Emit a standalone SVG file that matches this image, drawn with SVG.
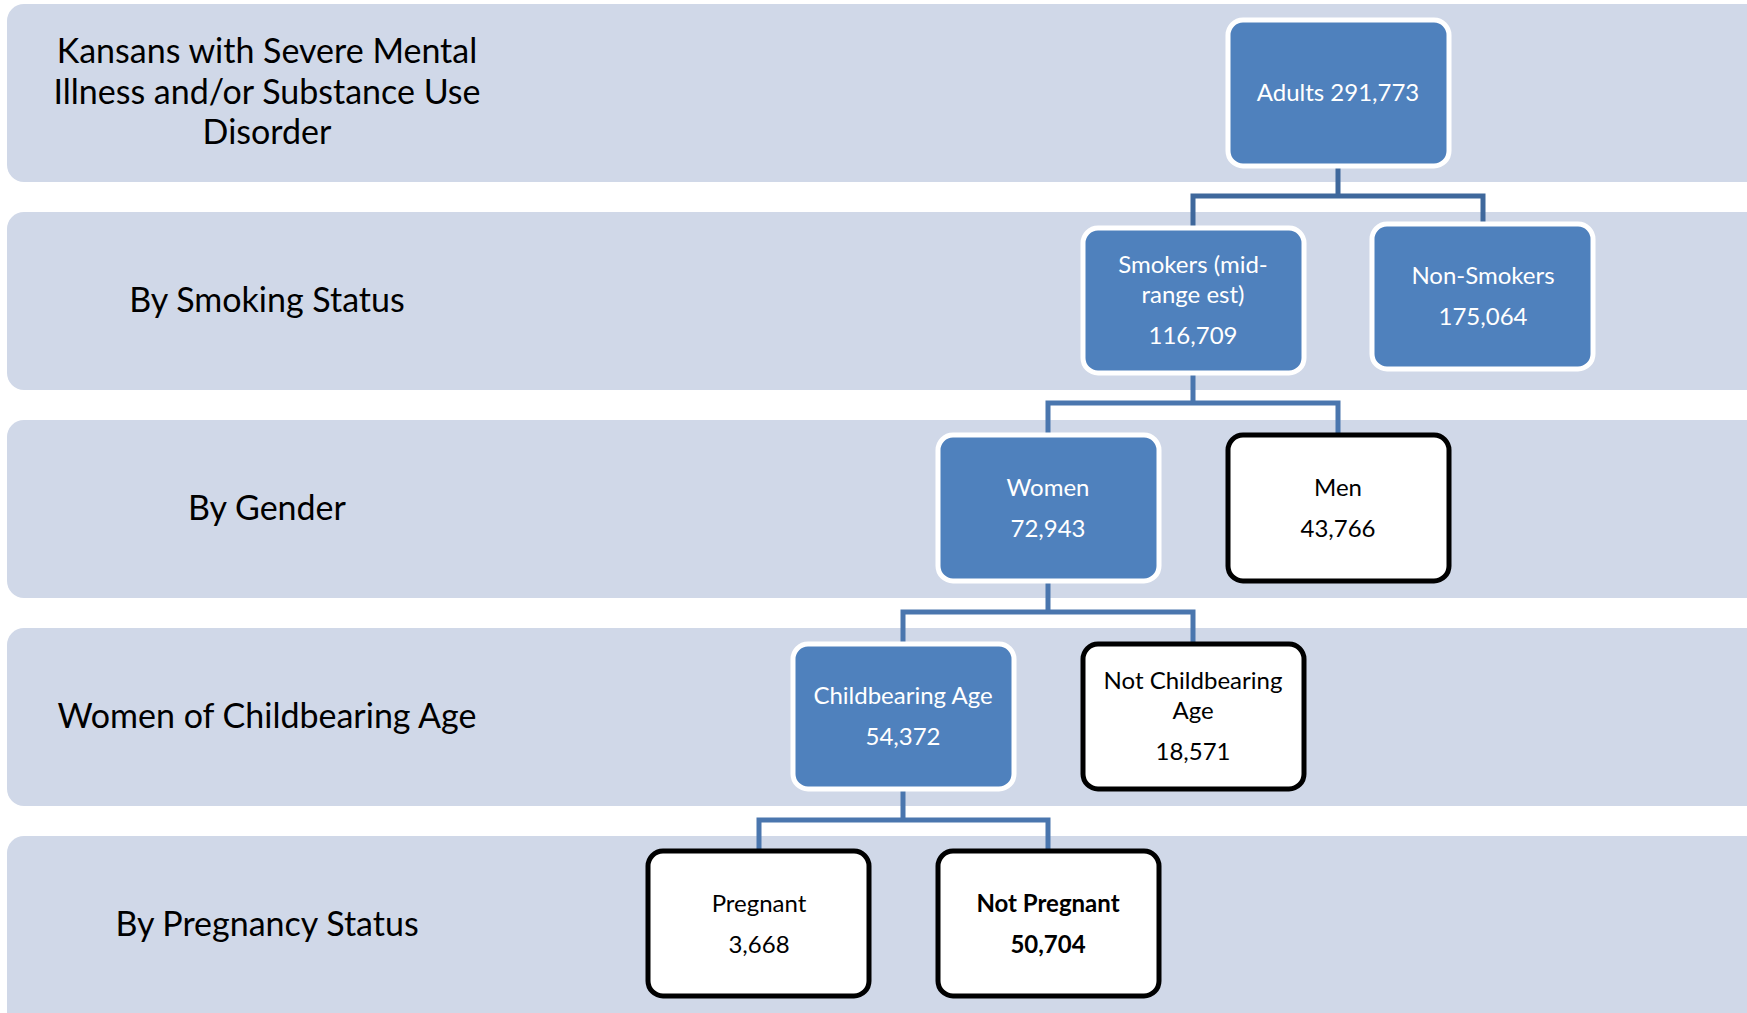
<svg xmlns="http://www.w3.org/2000/svg" width="1747" height="1013" viewBox="0 0 1747 1013">
<style>
.band{fill:#D0D8E8}
.lbl{font-family:Lato,"Liberation Sans",sans-serif;font-size:34px;fill:#000;text-anchor:middle}
.blue rect{fill:#4F81BD;stroke:#fff;stroke-width:5}
.white rect{fill:#fff;stroke:#000;stroke-width:5}
.blue text{font-family:Lato,"Liberation Sans",sans-serif;font-size:24px;fill:#fff;text-anchor:middle}
.white text{font-family:Lato,"Liberation Sans",sans-serif;font-size:24px;fill:#000;text-anchor:middle}
.conn{fill:none;stroke:#4A76AE;stroke-width:5}
</style>
<rect width="1747" height="1013" fill="#fff"/>
<g id="bands">
<rect class="band" x="7" y="4" width="1760" height="178" rx="17"/>
<rect class="band" x="7" y="212" width="1760" height="178" rx="17"/>
<rect class="band" x="7" y="420" width="1760" height="178" rx="17"/>
<rect class="band" x="7" y="628" width="1760" height="178" rx="17"/>
<rect class="band" x="7" y="836" width="1760" height="198" rx="17"/>
</g>
<g id="labels">
<text class="lbl" x="267" y="63">Kansans with Severe Mental</text>
<text class="lbl" x="267" y="104">Illness and/or Substance Use</text>
<text class="lbl" x="267" y="144">Disorder</text>
<text class="lbl" x="267" y="312">By Smoking Status</text>
<text class="lbl" x="267" y="520">By Gender</text>
<text class="lbl" x="267" y="728">Women of Childbearing Age</text>
<text class="lbl" x="267" y="936">By Pregnancy Status</text>
</g>
<g id="connectors">
<path class="conn" d="M1338,168 V196 M1193,226 V196 H1483 V222" style="stroke:#3F689C"/>
<path class="conn" d="M1193,375 V403 M1048,433 V403 H1338 V433"/>
<path class="conn" d="M1048,583 V612 M903,642 V612 H1193 V642"/>
<path class="conn" d="M903,791 V820 M759,849 V820 H1048 V849"/>
</g>
<g id="adults" class="blue">
<rect x="1228" y="20" width="221" height="146" rx="15"/>
<text x="1338" y="101">Adults 291,773</text>
</g>
<g id="smokers" class="blue">
<rect x="1083" y="228" width="221" height="145" rx="15"/>
<text x="1193" y="273">Smokers (mid-</text>
<text x="1193" y="303">range est)</text>
<text x="1193" y="344">116,709</text>
</g>
<g id="nonsmokers" class="blue">
<rect x="1372" y="224" width="221" height="145" rx="15"/>
<text x="1483" y="284">Non-Smokers</text>
<text x="1483" y="325">175,064</text>
</g>
<g id="women" class="blue">
<rect x="938" y="435" width="221" height="146" rx="15"/>
<text x="1048" y="496">Women</text>
<text x="1048" y="537">72,943</text>
</g>
<g id="men" class="white">
<rect x="1228" y="435" width="221" height="146" rx="15"/>
<text x="1338" y="496">Men</text>
<text x="1338" y="537">43,766</text>
</g>
<g id="childbearing" class="blue">
<rect x="793" y="644" width="221" height="145" rx="15"/>
<text x="903" y="704">Childbearing Age</text>
<text x="903" y="745">54,372</text>
</g>
<g id="notchildbearing" class="white">
<rect x="1083" y="644" width="221" height="145" rx="15"/>
<text x="1193" y="689">Not Childbearing</text>
<text x="1193" y="719">Age</text>
<text x="1193" y="760">18,571</text>
</g>
<g id="pregnant" class="white">
<rect x="648" y="851" width="221" height="145" rx="15"/>
<text x="759" y="912">Pregnant</text>
<text x="759" y="953">3,668</text>
</g>
<g id="notpregnant" class="white">
<rect x="938" y="851" width="221" height="145" rx="15"/>
<text x="1048" y="912" font-weight="bold">Not Pregnant</text>
<text x="1048" y="953" font-weight="bold">50,704</text>
</g>
</svg>
